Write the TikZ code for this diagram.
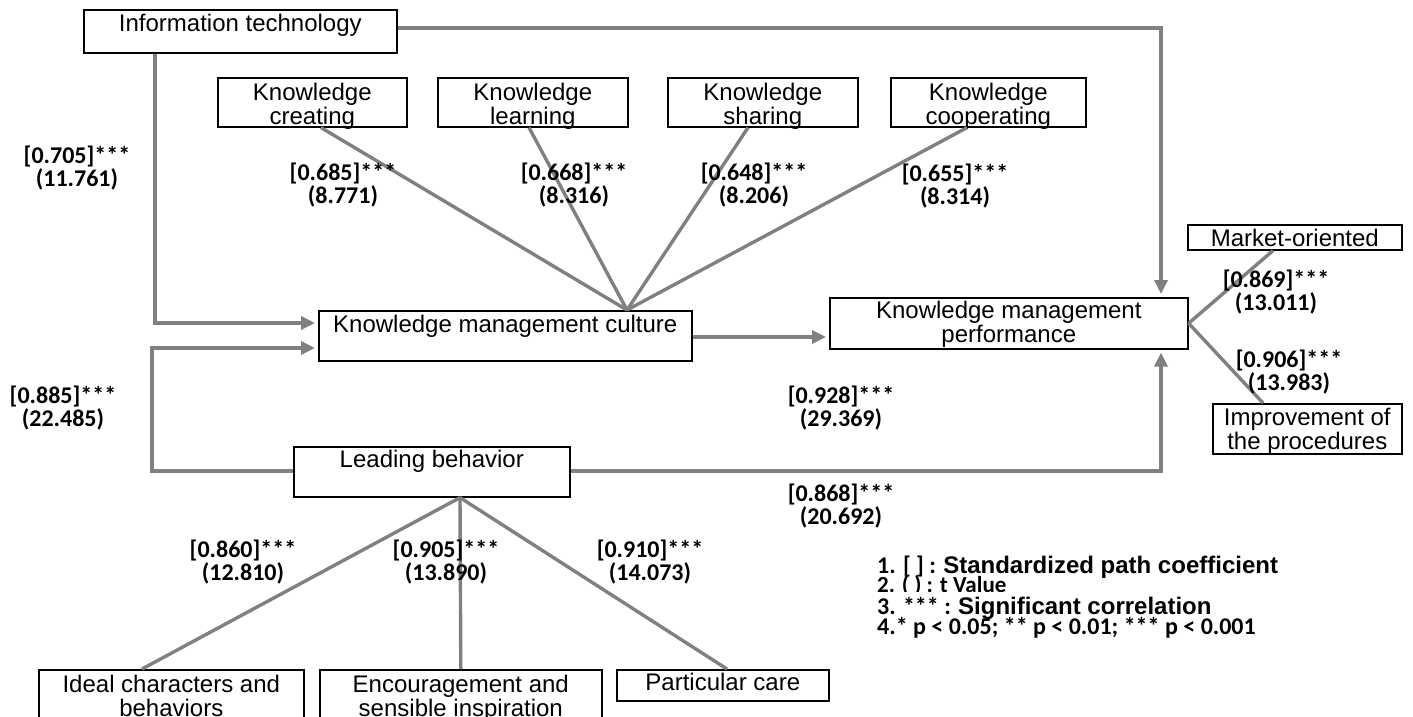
\documentclass[tikz,border=0pt]{standalone}
\usepackage{fontspec}
\setmainfont{Liberation Sans}
\newfontfamily\lblfont{Carlito}
\usetikzlibrary{arrows.meta,calc}
\definecolor{linegray}{HTML}{808080}
\newcommand\tl[2]{\parbox[t]{#1}{\centering #2}}
\tikzset{
  box/.style={draw=black, line width=1.6pt, inner sep=0pt, anchor=north west},
  btxt/.style={anchor=base, inner sep=0pt, font=\fontsize{24}{24}\selectfont},
  conn/.style={draw=linegray, line width=3.4pt},
  arr/.style={conn, -{Triangle[length=14pt,width=13pt]}, shorten >=3pt},
  coef/.style={font=\lblfont\bfseries\fontsize{24}{23.5}\selectfont, align=center, inner sep=0pt},
  legA/.style={font=\lblfont\bfseries\fontsize{24}{24}\selectfont, anchor=base west, inner sep=0pt},
}
\newcommand\legB{\normalfont\bfseries\fontsize{24}{24}\selectfont}
\begin{document}
\begin{tikzpicture}[x=1pt,y=-1pt]
\clip (0,0) rectangle (1413,717);
% boxes
\node[box, minimum width=313pt, minimum height=43pt, label={[btxt,yshift=-23pt]north:\tl{313pt}{Information technology}}] (it) at (83,9) {};
\node[box, minimum width=189pt, minimum height=49pt, label={[btxt,yshift=-23pt]north:\tl{189pt}{Knowledge\\creating}}] (kc) at (217,77) {};
\node[box, minimum width=190pt, minimum height=49pt, label={[btxt,yshift=-23pt]north:\tl{190pt}{Knowledge\\learning}}] (kl) at (437,77) {};
\node[box, minimum width=190pt, minimum height=49pt, label={[btxt,yshift=-23pt]north:\tl{190pt}{Knowledge\\sharing}}] (ks) at (667,77) {};
\node[box, minimum width=195pt, minimum height=49pt, label={[btxt,yshift=-23pt]north:\tl{195pt}{Knowledge\\cooperating}}] (kco) at (890,77) {};
\node[box, minimum width=214pt, minimum height=25pt, label={[btxt,yshift=-22pt]north:\tl{214pt}{Market-oriented}}] (mo) at (1187,224) {};
\node[box, minimum width=358pt, minimum height=51pt, label={[btxt,yshift=-21pt]north:\tl{358pt}{Knowledge management\\performance}}] (kmp) at (829,297) {};
\node[box, minimum width=189pt, minimum height=50pt, label={[btxt,yshift=-22pt]north:\tl{189pt}{Improvement of\\the procedures}}] (imp) at (1212,403) {};
\node[box, minimum width=373pt, minimum height=50pt, label={[btxt,yshift=-22pt]north:\tl{373pt}{Knowledge management culture}}] (kmc) at (318,310) {};
\node[box, minimum width=276pt, minimum height=50pt, label={[btxt,yshift=-21pt]north:\tl{276pt}{Leading behavior}}] (lb) at (293,446) {};
\node[box, minimum width=265pt, minimum height=52pt, label={[btxt,yshift=-23pt]north:\tl{265pt}{Ideal characters and\\behaviors}}] (ideal) at (38,669) {};
\node[box, minimum width=282pt, minimum height=52pt, label={[btxt,yshift=-23pt]north:\tl{282pt}{Encouragement and\\sensible inspiration}}] (enc) at (319,669) {};
\node[box, minimum width=212pt, minimum height=31pt, label={[btxt,yshift=-21pt]north:\tl{212pt}{Particular care}}] (pc) at (616,669) {};
% bend points
\coordinate (c1) at (155,323);
\coordinate (c2) at (152,471);
\coordinate (c3) at (152,348);
\coordinate (c4) at (0,337);
\coordinate (c5) at (1161,28);
\coordinate (c6) at (1161,471);
% arrows
\draw[arr] (it.south -| c1) -- (c1) -- (kmc.west |- c1);
\draw[arr] (lb.west |- c2) -- (c2) -- (c3) -- (kmc.west |- c3);
\draw[arr] (kmc.east |- c4) -- (kmp.west |- c4);
\draw[arr] (it.east |- c5) -- (c5) -- (kmp.north -| c5);
\draw[arr] (lb.east |- c6) -- (c6) -- (kmp.south -| c6);
% spokes to KMC
\coordinate (h1) at ($(kmc.north west)+(309,0)$);
\draw[conn] (h1) -- ($(kc.south west)+(104,0)$);
\draw[conn] (h1) -- ($(kl.south west)+(92,0)$);
\draw[conn] (h1) -- ($(ks.south west)+(81,0)$);
\draw[conn] (h1) -- ($(kco.south west)+(77,0)$);
% spokes from LB
\coordinate (h2) at ($(lb.south west)+(167,0)$);
\draw[conn] (h2) -- ($(ideal.north west)+(104,0)$);
\draw[conn] (h2) -- (enc.north);
\draw[conn] (h2) -- ($(pc.north west)+(111,0)$);
% spokes from KMP
\draw[conn] (kmp.east) -- ($(mo.south west)+(86,0)$);
\draw[conn] (kmp.east) -- ($(imp.north west)+(51,0)$);
% coefficients
\node[coef] (l705) at (77,168) {[0.705]***\\(11.761)};
\node[coef] (l685) at (343,185) {[0.685]***\\(8.771)};
\node[coef] (l668) at (574,185) {[0.668]***\\(8.316)};
\node[coef] (l648) at (754,185) {[0.648]***\\(8.206)};
\node[coef] (l655) at (955,186) {[0.655]***\\(8.314)};
\node[coef] (l869) at (1276,292) {[0.869]***\\(13.011)};
\node[coef] (l906) at (1289,372) {[0.906]***\\(13.983)};
\node[coef] (l885) at (63,408) {[0.885]***\\(22.485)};
\node[coef] (l928) at (841,408) {[0.928]***\\(29.369)};
\node[coef] (l868) at (841,506) {[0.868]***\\(20.692)};
\node[coef] (l860) at (243,562) {[0.860]***\\(12.810)};
\node[coef] (l905) at (446,562) {[0.905]***\\(13.890)};
\node[coef] (l910) at (650,562) {[0.910]***\\(14.073)};
% legend
\node[legA] (lg1) at (877,573) {1. [ ] : {\legB Standardized path coefficient}};
\node[legA, font=\lblfont\bfseries\fontsize{23}{23}\selectfont] (lg2) at (877,592) {2. ( ) : t Value};
\node[legA, fill=white, text height=22pt, text depth=1pt] (lg3) at (877,614) {3. *** : {\legB Significant correlation}};
\node[legA] (lg4) at (877,634) {4.* p < 0.05; ** p < 0.01; *** p < 0.001};
\end{tikzpicture}
\end{document}
